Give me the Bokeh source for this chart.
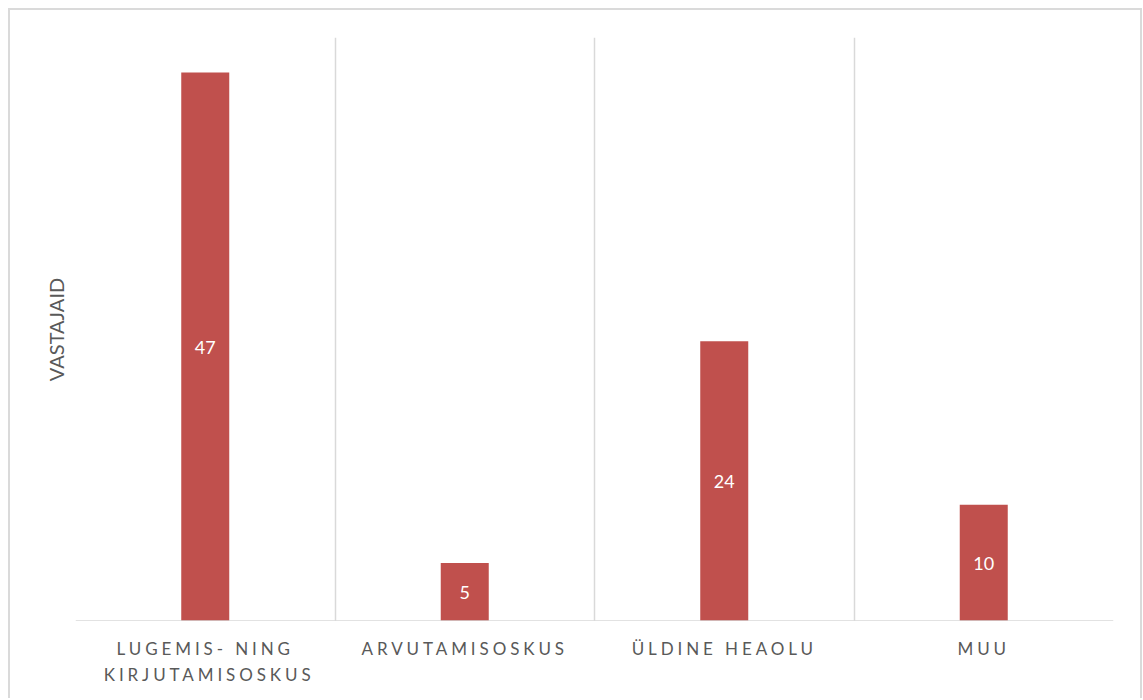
from bokeh.plotting import figure
from bokeh.models import ColumnDataSource, FixedTicker, Range1d, Span, Grid
from bokeh.layouts import column
from bokeh.core.properties import value
from bokeh.embed import file_html
from bokeh.resources import INLINE

categories = ["LUGEMIS- NING\nKIRJUTAMISOSKUS", "ARVUTAMISOSKUS", "ÜLDINE HEAOLU", "MUU"]
counts = [47, 5, 24, 10]
y_label = "VASTAJAID"

GRID = "#d9d9d9"
TEXT = "#595959"
SPACING = 3.9  # px letter spacing of category labels
W = 1130

xs = [i + 0.5 for i in range(len(categories))]
src = ColumnDataSource(dict(
    x=xs,
    top=counts,
    mid=[c / 2 for c in counts],
    txt=[str(c) for c in counts],
))
# Bokeh centres text on its unspaced width; compensate for the added letter spacing
cat_src = ColumnDataSource(dict(
    x=xs, y=[1] * len(xs), label=categories,
    dx=[-SPACING * len(c.split("\n")[0]) / 2 for c in categories],
))

xr = Range1d(0, len(categories))

p = figure(width=W, height=611, output_backend="svg", toolbar_location=None,
           x_range=xr, y_range=Range1d(0, 50), x_axis_type=None,
           min_border_left=65, min_border_right=27, min_border_top=27, min_border_bottom=0,
           outline_line_color=None, background_fill_color="white", border_fill_color="white")

p.add_layout(Grid(dimension=0, ticker=FixedTicker(ticks=list(range(len(categories) + 1))),
                  grid_line_color=GRID, grid_line_width=1.5))
p.add_layout(Span(location=0, dimension="width", line_color=GRID, line_width=2.5))

p.vbar(x="x", top="top", width=0.185, source=src, fill_color="#C0504D", line_color=None)
p.text(x="x", y="mid", text="txt", source=src, text_color="white",
       text_font=value("Lato"), text_font_size="18px", text_align="center", text_baseline="middle")

p.yaxis.ticker = FixedTicker(ticks=[])
p.yaxis.axis_line_color = None
p.yaxis.major_tick_line_color = None
p.yaxis.minor_tick_line_color = None
p.yaxis.axis_label = y_label
p.yaxis.axis_label_text_font = "Lato"
p.yaxis.axis_label_text_font_size = "20px"
p.yaxis.axis_label_text_font_style = "normal"
p.yaxis.axis_label_text_color = TEXT
p.yaxis.axis_label_standoff = 8
p.ygrid.grid_line_color = None

# category labels strip (letter-spaced)
s = figure(width=W, height=77, output_backend="svg", toolbar_location=None,
           x_range=xr, y_range=Range1d(0, 1), x_axis_type=None, y_axis_type=None,
           min_border_left=65, min_border_right=27, min_border_top=0, min_border_bottom=0,
           outline_line_color=None, background_fill_color="white", border_fill_color="white",
           styles={"letter-spacing": f"{SPACING}px"})
s.text(x="x", y="y", text="label", source=cat_src, text_color=TEXT,
       text_font=value("Lato"), text_font_size="17px", text_align="center",
       text_baseline="top", x_offset="dx", y_offset=16, text_line_height=1.27)

layout = column(p, s, spacing=0,
                styles={"margin-left": "8px", "margin-top": "8px",
                        "border": "2px solid #dadada", "border-bottom": "none"})

open("out.html", "w").write(file_html(layout, INLINE))
